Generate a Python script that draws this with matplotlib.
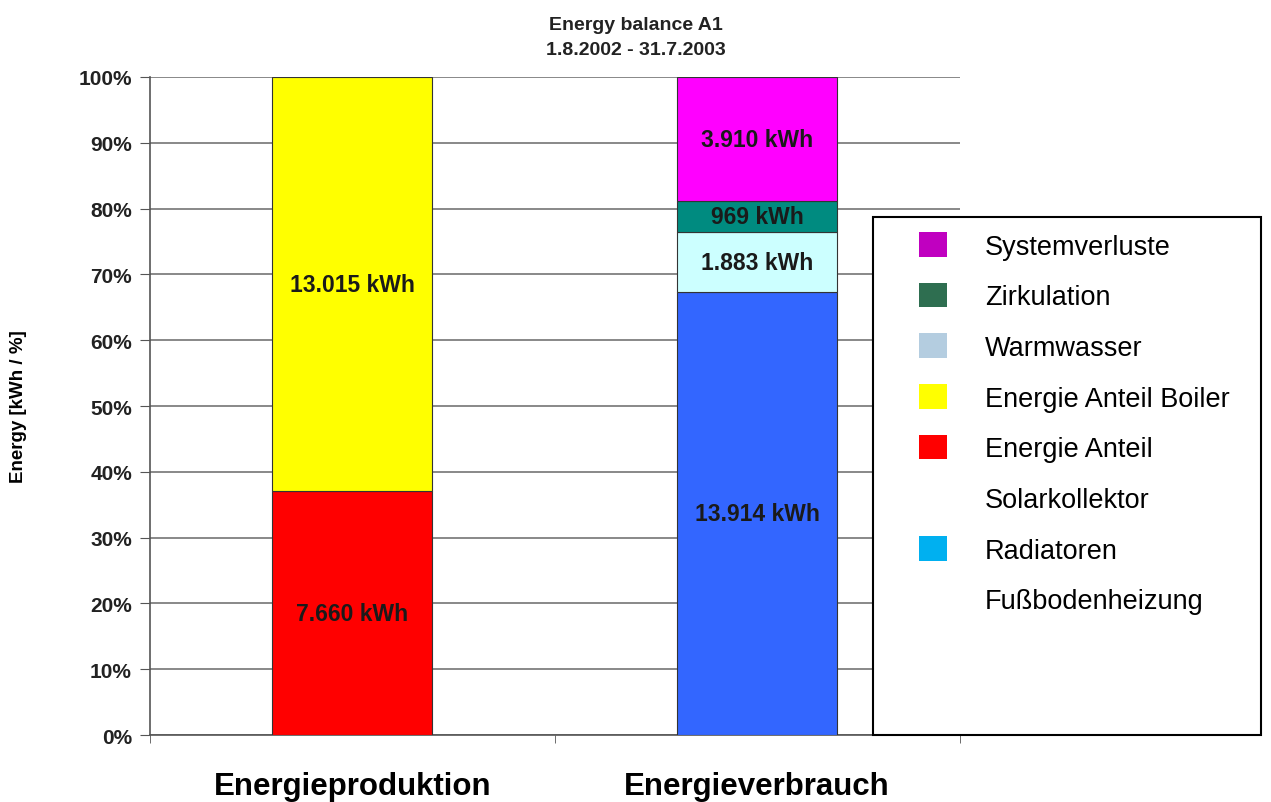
import numpy as np
import matplotlib.pyplot as plt
from matplotlib.patches import Patch, Rectangle
from matplotlib.ticker import MultipleLocator, PercentFormatter

plt.rcParams['font.family'] = ['Liberation Sans', 'DejaVu Sans']

categories = ['Energieproduktion', 'Energieverbrauch']

# kWh per component, bottom to top within each bar
production_names = ['Energie Anteil Solarkollektor', 'Energie Anteil Boiler']
production_kwh = [7660, 13015]
production_colors = ['#ff0000', '#ffff00']

consumption_names = ['Radiatoren Fußbodenheizung', 'Warmwasser', 'Zirkulation', 'Systemverluste']
consumption_kwh = [13914, 1883, 969, 3910]
consumption_colors = ['#3366ff', '#ccffff', '#008b80', '#ff00ff']

legend_labels = ['Systemverluste', 'Zirkulation', 'Warmwasser', 'Energie Anteil Boiler',
                 'Energie Anteil', 'Solarkollektor', 'Radiatoren', 'Fußbodenheizung']
legend_colors = ['#c000c0', '#2e6e50', '#b4cde0', '#ffff00',
                 '#ff0000', None, '#00b0f0', None]


def kwh_text(v):
    return f'{v:,} kWh'.replace(',', '.')


fig = plt.figure(figsize=(12.71, 8.03), dpi=100)
ax = fig.add_axes([0.118, 0.0834, 0.637, 0.8195])

width = 0.395
for i, (vals, cols) in enumerate([(production_kwh, production_colors),
                                  (consumption_kwh, consumption_colors)]):
    shares = np.array(vals) / sum(vals) * 100
    bottom = 0
    for v, s, c in zip(vals, shares, cols):
        bars = ax.bar(i, s, width, bottom=bottom, color=c, edgecolor='#333333',
                      linewidth=0.8, zorder=3)
        ax.bar_label(bars, labels=[kwh_text(v)], label_type='center',
                     fontsize=16.5, fontweight='bold', color='#1a1a1a')
        bottom += s

ax.set_xlim(-0.5, 1.5)
ax.set_ylim(0, 100)
ax.yaxis.set_major_locator(MultipleLocator(10))
ax.yaxis.set_major_formatter(PercentFormatter(decimals=0))
ax.grid(axis='y', color='#888888', linewidth=1.4, zorder=0)
ax.set_axisbelow(True)

ax.set_xticks([0, 1])
ax.set_xticklabels(categories, fontsize=22.5, fontweight='bold')
ax.tick_params(axis='x', length=0, pad=26)
ax.set_xticks([-0.5, 0.5, 1.5], minor=True)
ax.tick_params(axis='x', which='minor', length=6, color='#555555')
ax.tick_params(axis='y', length=7, color='#555555', labelsize=15, pad=6)
for lbl in ax.get_yticklabels():
    lbl.set_fontweight('bold')
    lbl.set_color('#222222')

for side in ['top', 'right']:
    ax.spines[side].set_visible(False)
for side in ['left', 'bottom']:
    ax.spines[side].set_color('#555555')
    ax.spines[side].set_linewidth(1.2)

ax.set_ylabel('Energy [kWh / %]', fontsize=13.5, fontweight='bold')
ax.yaxis.set_label_coords(-0.152, 0.5)

fig.text(0.5, 0.968, 'Energy balance A1', ha='center', va='center',
         fontsize=14, fontweight='bold', color='#222222')
fig.text(0.5, 0.937, '1.8.2002 - 31.7.2003', ha='center', va='center',
         fontsize=14, fontweight='bold', color='#222222')

# legend box with the entries packed at the top
fig.patches.append(Rectangle((873 / 1271, 1 - 736 / 803), 388 / 1271, 518 / 803,
                             transform=fig.transFigure, facecolor='white',
                             edgecolor='black', linewidth=1.5, zorder=5))
handles = [Patch(facecolor=c, edgecolor='none') if c else Patch(visible=False)
           for c in legend_colors]
leg = fig.legend(handles, legend_labels, loc='upper left',
                 bbox_to_anchor=(919 / 1271, 1 - 233 / 803), frameon=False,
                 fontsize=19.5, labelspacing=0.85, handlelength=1.03, handleheight=1.03,
                 handletextpad=1.4, borderpad=0, borderaxespad=0)
leg.set_zorder(6)

fig.savefig('out.png', dpi=100)
